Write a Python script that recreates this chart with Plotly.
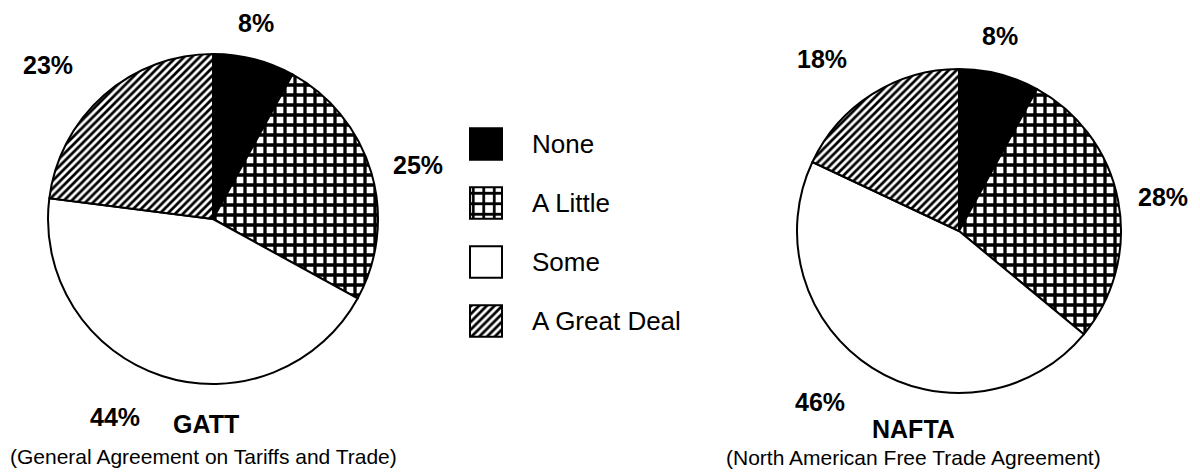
import plotly.graph_objects as go

# Survey answers, in drawing order (clockwise from 12 o'clock)
categories = ["None", "A Little", "Some", "A Great Deal"]
gatt_pct = [8, 25, 44, 23]
nafta_pct = [8, 28, 46, 18]

agreements = ["GATT", "NAFTA"]
agreement_names = [
    "(General Agreement on Tariffs and Trade)",
    "(North American Free Trade Agreement)",
]

# ---- styling -------------------------------------------------------------
W, H = 1200, 472
FONT = "Liberation Sans, Arial, Helvetica, sans-serif"

fill_bg = ["black", "white", "white", "white"]
fill_shape = ["", "+", "", "/"]
fill_size = [10, 10, 10, 5.5]
fill_solidity = [0.3, 0.55, 0.3, 0.5]

pattern = dict(
    shape=fill_shape,
    size=fill_size,
    solidity=fill_solidity,
    fgcolor="black",
    bgcolor=fill_bg,
    fillmode="replace",
)


def px(x, y):
    """Pixel position (from top-left) -> paper coordinates."""
    return x / W, (H - y) / H


def pie_domain(cx, cy, r):
    x0, y0 = px(cx - r, cy + r)
    x1, y1 = px(cx + r, cy - r)
    return dict(x=[x0, x1], y=[y0, y1])


pie_geometry = [(213, 219, 165), (959, 231, 162)]

# label anchors (pixel centres), one per category
pct_label_xy = [
    [(256, 23), (418, 165), (115, 417), (48, 65)],
    [(1000, 36), (1163, 197), (820, 402), (822, 59)],
]
title_xy = [(206, 424), (913, 429)]
subtitle_xy = [(203, 456), (913, 457)]

fig = go.Figure()

for values, (cx, cy, r) in zip([gatt_pct, nafta_pct], pie_geometry):
    fig.add_trace(
        go.Pie(
            labels=categories,
            values=values,
            sort=False,
            direction="clockwise",
            rotation=0,
            textinfo="none",
            hoverinfo="label+percent",
            showlegend=False,
            domain=pie_domain(cx, cy, r),
            marker=dict(
                colors=fill_bg,
                pattern=pattern,
                line=dict(color="black", width=2),
            ),
        )
    )

# Key: one swatch per category, each a unit bar on a hidden category axis
key_size = [10.5, 10.5, 10.5, 5.5]
key_solidity = [0.3, 0.45, 0.3, 0.5]
for i, cat in enumerate(categories):
    fig.add_trace(
        go.Bar(
            x=[1],
            y=[cat],
            orientation="h",
            width=0.53,
            showlegend=False,
            hoverinfo="y",
            marker=dict(
                color=fill_bg[i],
                pattern=dict(
                    shape=fill_shape[i],
                    size=key_size[i],
                    solidity=key_solidity[i],
                    fgcolor="black",
                    bgcolor=fill_bg[i],
                    fillmode="replace",
                ),
                line=dict(color="black", width=2),
            ),
            xaxis="x",
            yaxis="y",
        )
    )

key_top, key_bottom = 114.5, 350.5
annotations = []

for k in range(2):
    vals = [gatt_pct, nafta_pct][k]
    for v, (lx, ly) in zip(vals, pct_label_xy[k]):
        ax, ay = px(lx, ly)
        annotations.append(
            dict(
                x=ax, y=ay, xref="paper", yref="paper",
                text=f"{v}%", showarrow=False,
                xanchor="center", yanchor="middle",
                font=dict(family=FONT, size=25, color="black", weight=700),
            )
        )
    tx, ty = px(*title_xy[k])
    annotations.append(
        dict(
            x=tx, y=ty, xref="paper", yref="paper",
            text=agreements[k], showarrow=False,
            xanchor="center", yanchor="middle",
            font=dict(family=FONT, size=25, color="black", weight=700),
        )
    )
    sx, sy = px(*subtitle_xy[k])
    annotations.append(
        dict(
            x=sx, y=sy, xref="paper", yref="paper",
            text=agreement_names[k], showarrow=False,
            xanchor="center", yanchor="middle",
            font=dict(family=FONT, size=21, color="black"),
        )
    )

for cat in categories:
    annotations.append(
        dict(
            x=530 / W, xref="paper", y=cat, yref="y",
            text=cat, showarrow=False,
            xanchor="left", yanchor="middle",
            font=dict(family=FONT, size=26, color="black"),
        )
    )

fig.update_layout(
    width=W,
    height=H,
    margin=dict(l=0, r=0, t=0, b=0),
    paper_bgcolor="white",
    plot_bgcolor="white",
    font=dict(family=FONT, color="black"),
    showlegend=False,
    barmode="overlay",
    xaxis=dict(
        domain=[468 / W, 504 / W],
        range=[-0.0625, 1.0625],
        visible=False,
        fixedrange=True,
    ),
    yaxis=dict(
        domain=[(H - key_bottom) / H, (H - key_top) / H],
        type="category",
        categoryorder="array",
        categoryarray=categories,
        range=[3.5, -0.5],
        visible=False,
        fixedrange=True,
    ),
    annotations=annotations,
)

fig.write_html("out.html")
